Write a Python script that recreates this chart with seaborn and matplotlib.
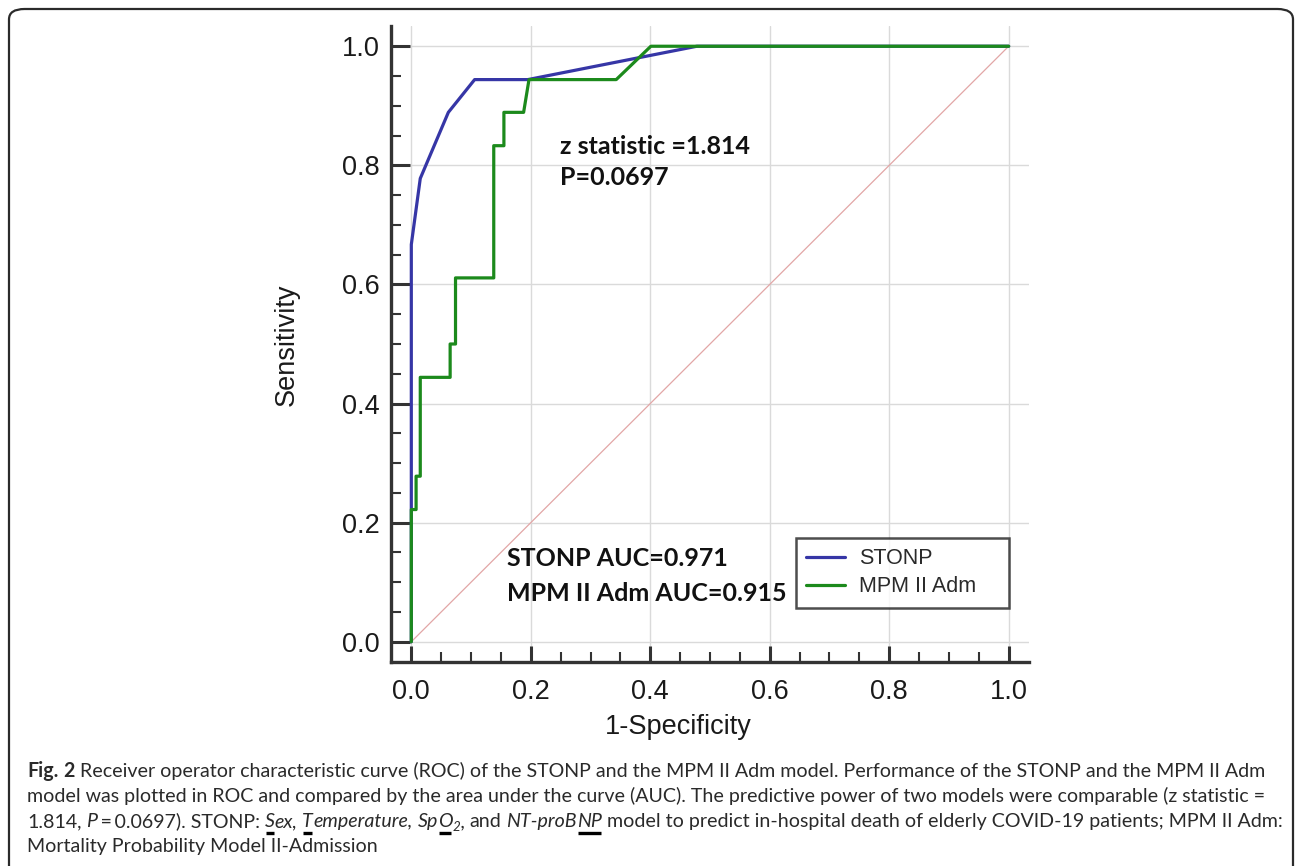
import numpy as np
import pandas as pd
import matplotlib
matplotlib.use("Agg")
import matplotlib.pyplot as plt
import seaborn as sns
from matplotlib.patches import FancyBboxPatch
from matplotlib.lines import Line2D
from matplotlib.ticker import MultipleLocator

# ---------------- data ----------------
stonp_fpr = [0.0, 0.0, 0.015, 0.062, 0.106, 0.195, 0.478, 1.0]
stonp_tpr = [0.0, 0.667, 0.778, 0.889, 0.944, 0.944, 1.0, 1.0]

mpm_fpr = [0.0, 0.0, 0.008, 0.008, 0.015, 0.015, 0.065, 0.065, 0.074, 0.074,
           0.138, 0.138, 0.155, 0.155, 0.188, 0.197, 0.343, 0.401, 1.0]
mpm_tpr = [0.0, 0.222, 0.222, 0.278, 0.278, 0.444, 0.444, 0.5, 0.5, 0.611,
           0.611, 0.833, 0.833, 0.889, 0.889, 0.944, 0.944, 1.0, 1.0]

ref_line = [0.0, 1.0]
tick_values = [0.0, 0.2, 0.4, 0.6, 0.8, 1.0]
tick_labels = ["0.0", "0.2", "0.4", "0.6", "0.8", "1.0"]
series_names = ["STONP", "MPM II Adm"]

W, H = 1295, 866
sns.set_theme(style="ticks")
plt.rcParams["font.family"] = ["Liberation Sans", "DejaVu Sans"]

fig = plt.figure(figsize=(W / 100, H / 100), dpi=100)
fig.patch.set_facecolor("white")

# outer rounded frame (bottom edge falls outside the image)
frame = FancyBboxPatch((9 / W, -20 / H), (1293 - 9) / W, (866 - 9 + 20) / H,
                       boxstyle="round,pad=0,rounding_size=0.012",
                       transform=fig.transFigure, fill=False,
                       edgecolor="#2b2b2b", linewidth=1.6, zorder=0)
fig.add_artist(frame)

ax = fig.add_axes([391 / W, 1 - 662 / H, 638 / W, 636 / H])
ax.set_facecolor("white")

ax.plot(ref_line, ref_line, color="#e2a6a6", lw=0.9, zorder=1)
sns.lineplot(x=stonp_fpr, y=stonp_tpr, sort=False, estimator=None,
             color="#3636a6", lw=2.3, ax=ax, label=series_names[0], zorder=3)
sns.lineplot(x=mpm_fpr, y=mpm_tpr, sort=False, estimator=None,
             color="#1c8a1c", lw=2.3, ax=ax, label=series_names[1], zorder=4)

ax.set_xlim(-0.034, 1.034)
ax.set_ylim(-0.034, 1.034)
ax.set_xticks(tick_values)
ax.set_xticklabels(tick_labels)
ax.set_yticks(tick_values)
ax.set_yticklabels(tick_labels)
ax.xaxis.set_minor_locator(MultipleLocator(0.05))
ax.yaxis.set_minor_locator(MultipleLocator(0.05))
ax.grid(True, which="major", color="#dadada", lw=1.0)
ax.set_axisbelow(True)

for s in ["top", "right"]:
    ax.spines[s].set_visible(False)
for s in ["left", "bottom"]:
    ax.spines[s].set_color("#333333")
    ax.spines[s].set_linewidth(2.4)

ax.tick_params(axis="y", which="major", direction="in", length=13.7, width=2.2,
               color="#333333", labelsize=19.5, pad=8, labelcolor="#1a1a1a")
ax.tick_params(axis="x", which="major", direction="in", length=11.2, width=2.2,
               color="#333333", labelsize=19.5, pad=12, labelcolor="#1a1a1a")
ax.tick_params(axis="both", which="minor", direction="in", length=7.0, width=1.5,
               color="#333333")

ax.set_xlabel("1-Specificity", fontsize=19.5, color="#1a1a1a")
ax.set_ylabel("Sensitivity", fontsize=19.5, color="#1a1a1a")
ax.xaxis.set_label_coords((678 - 391) / 638, 1 - (727 - 26) / 636)
ax.yaxis.set_label_coords((287 - 391) / 638, 1 - (345 - 26) / 636)
ax.xaxis.label.set_va("center")
ax.yaxis.label.set_va("center")

leg = ax.legend(loc="upper left",
                bbox_to_anchor=((796 - 391) / 638, 1 - (538 - 26) / 636,
                                (1009 - 796) / 638, 0.0),
                mode="expand", borderaxespad=0, fontsize=15.5, frameon=True,
                fancybox=False, edgecolor="#222222", handlelength=1.8,
                handletextpad=0.65, borderpad=0.48, labelspacing=0.32)
leg.get_frame().set_linewidth(1.8)
for t in leg.get_texts():
    t.set_color("#2a2a2a")

bold = dict(family=["Lato", "DejaVu Sans"], fontweight="bold", fontsize=18,
            color="#111111", va="baseline", ha="left")
ax.text(0.249, 0.819, "z statistic =1.814", **bold)
ax.text(0.249, 0.767, "P=0.0697", **bold)
ax.text(0.161, 0.127, "STONP AUC=0.971", **bold)
ax.text(0.161, 0.0685, "MPM II Adm AUC=0.915", **bold)

# ---------------- caption ----------------
renderer = fig.canvas.get_renderer()
cap_family = ["Lato", "DejaVu Sans"]

# segments: (text, style, weight, underline, space_after, subscript)
lines = [
    [("Fig.", "normal", "bold", False, True, False),
     ("2", "normal", "bold", False, True, False),
     ("Receiver operator characteristic curve (ROC) of the STONP and the MPM II Adm model. Performance of the STONP and the MPM II Adm",
      "normal", "normal", False, False, False)],
    [("model was plotted in ROC and compared by the area under the curve (AUC). The predictive power of two models were comparable (z statistic =",
      "normal", "normal", False, False, False)],
    [("1.814,", "normal", "normal", False, True, False),
     ("P", "italic", "normal", False, False, False),
     ("\u2009=\u20090.0697). STONP:", "normal", "normal", False, True, False),
     ("S", "italic", "normal", True, False, False),
     ("ex,", "italic", "normal", False, True, False),
     ("T", "italic", "normal", True, False, False),
     ("emperature,", "italic", "normal", False, True, False),
     ("Sp", "italic", "normal", False, False, False),
     ("O", "italic", "normal", True, False, False),
     ("2", "italic", "normal", False, False, True),
     (",", "italic", "normal", False, True, False),
     ("and", "normal", "normal", False, True, False),
     ("NT-proB", "italic", "normal", False, False, False),
     ("NP", "italic", "normal", True, True, False),
     ("model to predict in-hospital death of elderly COVID-19 patients; MPM II Adm:",
      "normal", "normal", False, False, False)],
    [("Mortality Probability Model II-Admission", "normal", "normal", False, False, False)],
]


def width_of(s, size, style="normal", weight="normal"):
    t = fig.text(0, 0, s, fontsize=size, family=cap_family, fontstyle=style,
                 fontweight=weight)
    w = t.get_window_extent(renderer).width
    t.remove()
    return w


base = 12.0
w2 = width_of(lines[1][0][0], base)
cap_size = base * (1233.0 / w2)
space_w = width_of("a a", cap_size) - width_of("aa", cap_size)

baselines = [777, 802, 827, 852]
x_start = 27
for segs, yb in zip(lines, baselines):
    x = x_start
    for text, style, weight, ul, sp, sub in segs:
        size = cap_size * (0.68 if sub else 1.0)
        dy = 4 if sub else 0
        t = fig.text(x / W, 1 - (yb + dy) / H, text, fontsize=size,
                     family=cap_family, fontstyle=style, fontweight=weight,
                     color="#2a2a2a", va="baseline", ha="left")
        w = t.get_window_extent(renderer).width
        if ul:
            fig.add_artist(Line2D([(x + 1) / W, (x + w - 1) / W],
                                  [1 - (yb + 6) / H, 1 - (yb + 6) / H],
                                  transform=fig.transFigure, color="black",
                                  lw=2.4, solid_capstyle="butt"))
        x += w + (space_w if sp else 0)

fig.savefig("out.png", dpi=100, facecolor="white")
